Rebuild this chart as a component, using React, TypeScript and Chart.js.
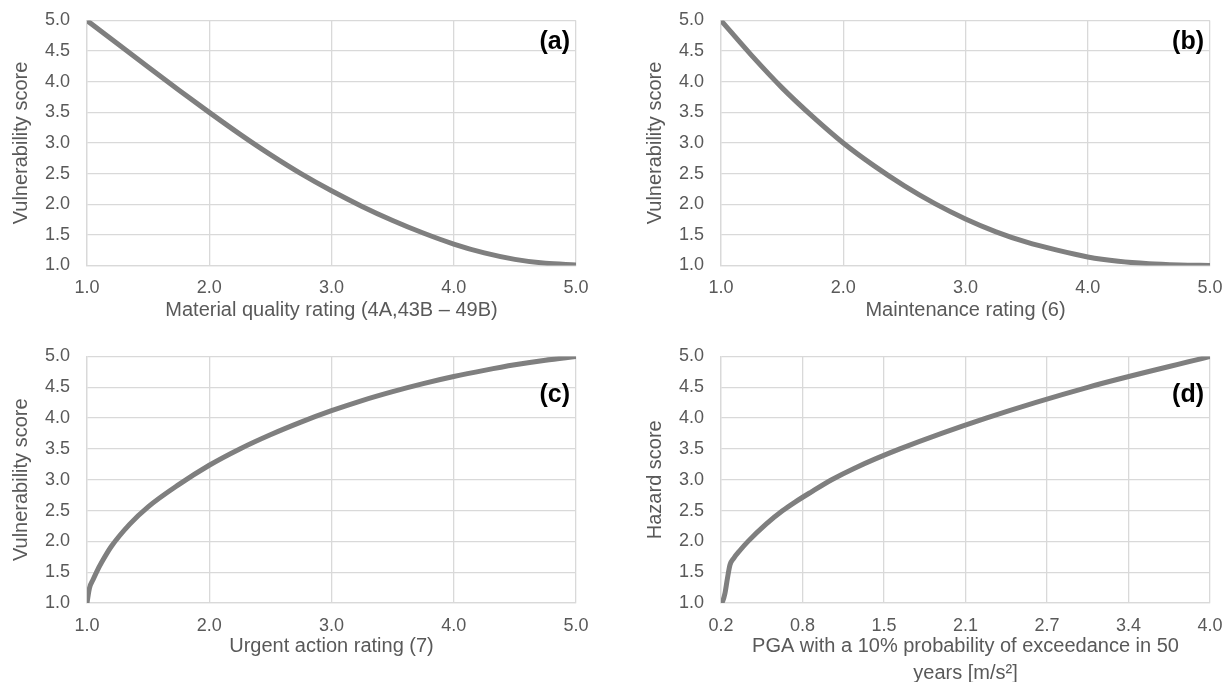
import React, { useEffect, useRef } from "react";
import { Chart, registerables } from "chart.js";

Chart.register(...registerables);

// ---------- data ----------
const ratingX = [1.0, 1.25, 1.5, 1.75, 2.0, 2.25, 2.5, 2.75, 3.0, 3.25, 3.5, 3.75, 4.0, 4.25, 4.5, 4.75, 5.0];
const materialY = [5.0, 4.62, 4.24, 3.865, 3.5, 3.145, 2.81, 2.5, 2.22, 1.965, 1.735, 1.53, 1.35, 1.205, 1.1, 1.035, 1.01];
const maintenanceY = [5.0, 4.43, 3.9, 3.43, 3.0, 2.63, 2.3, 2.01, 1.76, 1.55, 1.38, 1.25, 1.14, 1.07, 1.03, 1.01, 1.0];

const urgentX = [1.0, 1.02, 1.05, 1.08, 1.12, 1.2, 1.35, 1.5, 1.75, 2.0, 2.25, 2.5, 2.75, 3.0, 3.25, 3.5, 3.75, 4.0, 4.25, 4.5, 4.75, 5.0];
const urgentY = [1.0, 1.24, 1.38, 1.51, 1.66, 1.92, 2.28, 2.56, 2.92, 3.235, 3.5, 3.73, 3.935, 4.12, 4.285, 4.43, 4.56, 4.675, 4.775, 4.865, 4.94, 5.0];

const pgaX = [0.2, 0.213, 0.23, 0.25, 0.27, 0.3, 0.35, 0.41, 0.55, 0.68, 0.77, 0.9, 1.06, 1.23, 1.59, 2.26, 3.05, 4.0];
const hazardY = [1.0, 1.03, 1.15, 1.4, 1.62, 1.73, 1.86, 2.0, 2.28, 2.5, 2.63, 2.8, 3.0, 3.18, 3.5, 4.0, 4.5, 5.0];

const ratingTickLabels = ["1.0", "2.0", "3.0", "4.0", "5.0"];
const pgaTickLabels = ["0.2", "0.8", "1.5", "2.1", "2.7", "3.4", "4.0"];
const scoreTickLabels = ["1.0", "1.5", "2.0", "2.5", "3.0", "3.5", "4.0", "4.5", "5.0"];

// ---------- styles ----------
const FONT = '"Liberation Sans", Arial, Helvetica, sans-serif';
const TEXT = "#595959";
const GRID = "#d9d9d9";
const LINE = "#7f7f7f";

const tagPlugin = {
  id: "panelTag",
  afterDatasetsDraw(chart: any) {
    const o = chart.options.plugins.panelTag;
    if (!o) return;
    const { ctx, chartArea } = chart;
    ctx.save();
    ctx.font = `bold 25px ${FONT}`;
    ctx.fillStyle = "#000000";
    ctx.textAlign = "right";
    ctx.textBaseline = "middle";
    ctx.fillText(o.text, chartArea.right - 6, chartArea.top + o.dy);
    ctx.restore();
  },
};

type Panel = {
  left: number;
  top: number;
  width: number;
  height: number;
  areaTop: number;
  areaBottom: number;
  areaRight: number;
  xs: number[];
  ys: number[];
  xMin: number;
  xMax: number;
  xLabels: string[];
  xTitle: string | string[];
  xTitlePad: number;
  xTitleLH: number;
  yTitle: string;
  tag: string;
  tagDy: number;
};

const panels: Panel[] = [
  {
    left: 0, top: 0, width: 610, height: 335,
    areaTop: 20.5, areaBottom: 265.5, areaRight: 576,
    xs: ratingX, ys: materialY, xMin: 1, xMax: 5, xLabels: ratingTickLabels,
    xTitle: "Material quality rating (4A,43B \u2013 49B)", xTitlePad: 13, xTitleLH: 1.2,
    yTitle: "Vulnerability score", tag: "(a)", tagDy: 22,
  },
  {
    left: 634, top: 0, width: 590, height: 335,
    areaTop: 20.5, areaBottom: 265.5, areaRight: 576,
    xs: ratingX, ys: maintenanceY, xMin: 1, xMax: 5, xLabels: ratingTickLabels,
    xTitle: "Maintenance rating (6)", xTitlePad: 13, xTitleLH: 1.2,
    yTitle: "Vulnerability score", tag: "(b)", tagDy: 22,
  },
  {
    left: 0, top: 335, width: 610, height: 360,
    areaTop: 21.5, areaBottom: 268, areaRight: 576,
    xs: urgentX, ys: urgentY, xMin: 1, xMax: 5, xLabels: ratingTickLabels,
    xTitle: "Urgent action rating (7)", xTitlePad: 36.3, xTitleLH: 1.2,
    yTitle: "Vulnerability score", tag: "(c)", tagDy: 39,
  },
  {
    left: 634, top: 335, width: 590, height: 360,
    areaTop: 21.5, areaBottom: 268, areaRight: 576,
    xs: pgaX, ys: hazardY, xMin: 0.2, xMax: 4.0, xLabels: pgaTickLabels,
    xTitle: ["PGA with a 10% probability of exceedance in 50", "years [m/s\u00B2]"], xTitlePad: 8.4, xTitleLH: 1.33,
    yTitle: "Hazard score", tag: "(d)", tagDy: 39,
  },
];

function PanelChart({ p }: { p: Panel }) {
  const ref = useRef<HTMLCanvasElement | null>(null);
  useEffect(() => {
    if (!ref.current) return;
    const n = p.xLabels.length;
    const chart = new Chart(ref.current, {
      type: "scatter",
      data: {
        datasets: [
          {
            data: p.xs.map((x, i) => ({ x, y: p.ys[i] })),
            showLine: true,
            borderColor: LINE,
            backgroundColor: LINE,
            borderWidth: 5,
            pointRadius: 0,
            cubicInterpolationMode: "monotone",
            fill: false,
          } as any,
        ],
      },
      options: {
        responsive: false,
        animation: false,
        events: [],
        layout: {
          padding: { top: p.areaTop, right: p.width - p.areaRight, left: 0, bottom: 0 },
        },
        plugins: {
          legend: { display: false },
          tooltip: { enabled: false },
          panelTag: { text: p.tag, dy: p.tagDy },
        } as any,
        scales: {
          x: {
            type: "linear",
            min: p.xMin,
            max: p.xMax,
            afterBuildTicks: (s: any) => {
              s.ticks = p.xLabels.map((_, i) => ({ value: p.xMin + ((p.xMax - p.xMin) * i) / (n - 1) }));
            },
            afterFit: (s: any) => {
              s.height = p.height - p.areaBottom;
              s.paddingLeft = 0;
              s.paddingRight = 0;
              s.paddingTop = 0;
              s.paddingBottom = 0;
            },
            ticks: {
              autoSkip: false,
              maxRotation: 0,
              padding: 12,
              color: TEXT,
              font: { family: FONT, size: 18 },
              callback: (_v: any, i: number) => p.xLabels[i],
            },
            grid: { color: GRID, lineWidth: 1.3, drawTicks: false },
            border: { color: GRID, width: 1.3 },
            title: {
              display: true,
              text: p.xTitle,
              color: TEXT,
              font: { family: FONT, size: 20, lineHeight: p.xTitleLH },
              padding: { top: 0, bottom: p.xTitlePad },
            },
          },
          y: {
            type: "linear",
            min: 1,
            max: 5,
            afterBuildTicks: (s: any) => {
              s.ticks = scoreTickLabels.map((_, i) => ({ value: 1 + 0.5 * i }));
            },
            afterFit: (s: any) => {
              s.width = 87;
              s.paddingLeft = 0;
              s.paddingRight = 0;
              s.paddingTop = 0;
              s.paddingBottom = 0;
            },
            ticks: {
              autoSkip: false,
              padding: 17,
              color: TEXT,
              font: { family: FONT, size: 18 },
              callback: (_v: any, i: number) => scoreTickLabels[i],
            },
            grid: { color: GRID, lineWidth: 1.3, drawTicks: false },
            border: { color: GRID, width: 1.3 },
            title: {
              display: true,
              text: p.yTitle,
              color: TEXT,
              font: { family: FONT, size: 20, lineHeight: 1.2 },
              padding: { top: 9.7, bottom: 0 },
            },
          },
        },
      },
      plugins: [tagPlugin],
    });
    return () => chart.destroy();
  }, [p]);
  return (
    <canvas
      ref={ref}
      width={p.width}
      height={p.height}
      style={{
        position: "absolute",
        left: p.left,
        top: p.top,
        width: p.width,
        height: p.height,
        display: "block",
      }}
    />
  );
}

export default function App() {
  return (
    <div
      style={{
        position: "fixed",
        left: 0,
        top: 0,
        width: 1224,
        height: 682,
        overflow: "hidden",
        background: "#ffffff",
      }}
    >
      {panels.map((p) => (
        <PanelChart key={p.tag} p={p} />
      ))}
    </div>
  );
}
